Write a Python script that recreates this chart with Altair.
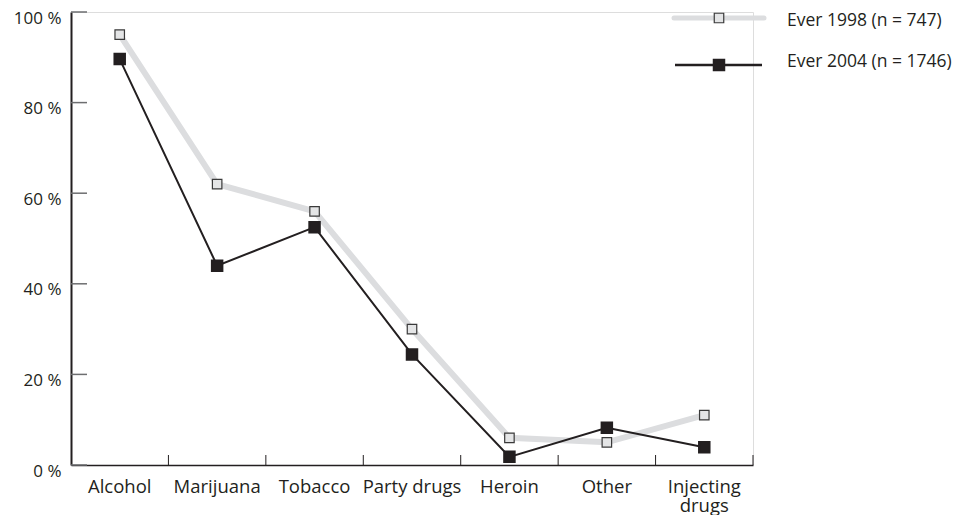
import altair as alt
import pandas as pd

categories = ["Alcohol", "Marijuana", "Tobacco", "Party drugs", "Heroin", "Other", "Injecting drugs"]
ever_1998 = [95, 62, 56, 30, 6, 5, 11]
ever_2004 = [89.6, 44, 52.5, 24.4, 1.8, 8.2, 3.9]
series_names = ["Ever 1998 (n = 747)", "Ever 2004 (n = 1746)"]
y_ticks = [0, 20, 40, 60, 80, 100]

FONT = "Open Sans"
FS = 18.5
TXT = "#231f20"
GRAY_LINE = "#dcdddf"
GRAY_FILL = "#e4e5e6"

df98 = pd.DataFrame({"cat": categories, "val": ever_1998})
df04 = pd.DataFrame({"cat": categories, "val": ever_2004})
ticks_df = pd.DataFrame({"v": y_ticks})
cats_df = pd.DataFrame({"cat": categories})

W, H = 682, 453

x_enc = alt.X("cat:N", sort=categories,
              scale=alt.Scale(paddingInner=0, paddingOuter=0),
              axis=alt.Axis(title=None, labelAngle=0, labelAlign="center", labelBaseline="top",
                            labelFont=FONT, labelFontSize=FS,
                            labelColor=TXT, ticks=False, domainColor=TXT, domainWidth=1.5,
                            labelPadding=12, labelLineHeight=19,
                            labelExpr="datum.value == 'Injecting drugs' ? ['Injecting', 'drugs'] : datum.value"))
y_enc = alt.Y("val:Q", scale=alt.Scale(domain=[0, 100], nice=False),
              axis=alt.Axis(title=None, values=y_ticks, labelExpr="datum.value + ' %'",
                            labelFont=FONT, labelFontSize=17, labelColor=TXT, ticks=False,
                            grid=False, domainColor=TXT, domainWidth=2, labelPadding=10,
                            labelOffset=6))

line98 = alt.Chart(df98).mark_line(color=GRAY_LINE, strokeWidth=6, strokeCap="round").encode(x=x_enc, y=y_enc)
pts98 = alt.Chart(df98).mark_point(shape="square", size=90, filled=True, fill=GRAY_FILL,
                                   stroke="#3a3a3a", strokeWidth=1.2, opacity=1).encode(x=x_enc, y=y_enc)
line04 = alt.Chart(df04).mark_line(color=TXT, strokeWidth=2).encode(x=x_enc, y=y_enc)
pts04 = alt.Chart(df04).mark_point(shape="square", size=110, filled=True, fill=TXT,
                                   stroke=TXT, opacity=1).encode(x=x_enc, y=y_enc)

yticks = alt.Chart(ticks_df).mark_rule(color="#6d6e70", strokeWidth=1.5).encode(
    y=alt.Y("v:Q", scale=alt.Scale(domain=[0, 100], nice=False)),
    x=alt.value(0), x2=alt.value(16))
xticks = alt.Chart(cats_df).mark_rule(color=TXT, strokeWidth=1).encode(
    x=alt.X("cat:N", sort=categories, bandPosition=1),
    y=alt.value(H - 10), y2=alt.value(H))

# legend
LFS = 17.5
leg_rule98 = alt.Chart(pd.DataFrame({"s": [series_names[0]]})).mark_rule(
    color=GRAY_LINE, strokeWidth=5, strokeCap="round").encode(
    x=alt.value(603), x2=alt.value(693), y=alt.value(6))
leg_pt98 = alt.Chart(pd.DataFrame({"s": [series_names[0]]})).mark_point(
    shape="square", size=90, filled=True, fill=GRAY_FILL, stroke="#3a3a3a", strokeWidth=1.2, opacity=1).encode(
    x=alt.value(648), y=alt.value(6))
leg_txt98 = alt.Chart(pd.DataFrame({"s": [series_names[0]]})).mark_text(
    align="left", baseline="middle", font=FONT, fontSize=LFS, color=TXT).encode(
    x=alt.value(716), y=alt.value(9), text="s:N")
leg_rule04 = alt.Chart(pd.DataFrame({"s": [series_names[1]]})).mark_rule(
    color=TXT, strokeWidth=2.5).encode(
    x=alt.value(604), x2=alt.value(691), y=alt.value(53))
leg_pt04 = alt.Chart(pd.DataFrame({"s": [series_names[1]]})).mark_point(
    shape="square", size=110, filled=True, fill=TXT, stroke=TXT, opacity=1).encode(
    x=alt.value(648), y=alt.value(53))
leg_txt04 = alt.Chart(pd.DataFrame({"s": [series_names[1]]})).mark_text(
    align="left", baseline="middle", font=FONT, fontSize=LFS, color=TXT).encode(
    x=alt.value(716), y=alt.value(50), text="s:N")

chart = alt.layer(
    yticks, xticks, line98, line04, pts98, pts04,
    leg_rule98, leg_pt98, leg_txt98, leg_rule04, leg_pt04, leg_txt04
).properties(
    width=W, height=H,
    autosize=alt.AutoSizeParams(type="none"),
    padding={"left": 63, "top": 4, "right": 206, "bottom": 50},
).configure_view(stroke=None).configure(background="white")

chart.save("out.html", embed_options={"renderer": "svg", "actions": False})
